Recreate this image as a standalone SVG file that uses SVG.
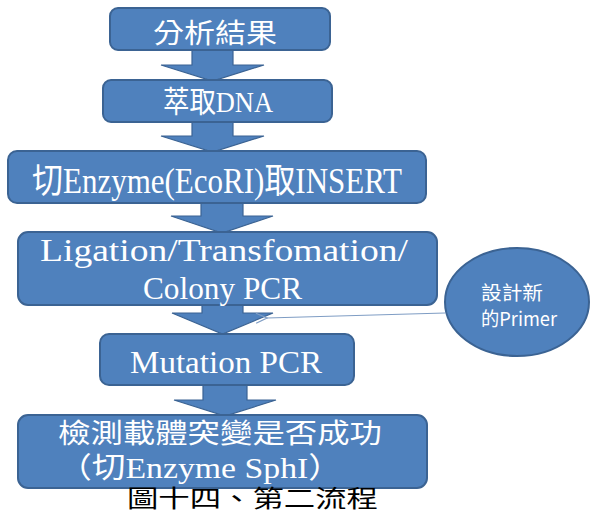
<svg xmlns="http://www.w3.org/2000/svg" width="590" height="525" viewBox="0 0 590 525">
<defs>
<style>
.box{fill:#4F81BD;stroke:#3B6393;stroke-width:2}
.arr{fill:#4F81BD;stroke:#3B6393;stroke-width:1.2;stroke-linejoin:miter}
.t{font-family:"Liberation Serif","Noto Sans CJK TC",serif;fill:#FFFFFF;text-anchor:start}
.e{font-family:"Noto Sans CJK TC","Noto Sans",sans-serif;fill:#FFFFFF;font-size:19px}
.cap{font-family:"Liberation Serif","Noto Sans CJK TC",serif;fill:#000000;font-size:24px}
.conn{fill:none;stroke:#7F9DC4;stroke-width:1.2}
</style>
<marker id="open" markerWidth="14" markerHeight="12" refX="1" refY="6" orient="auto" markerUnits="userSpaceOnUse">
<path d="M12,1 L1,6 L12,11" fill="none" stroke="#7F9DC4" stroke-width="1.2"/>
</marker>
</defs>
<rect width="590" height="525" fill="#FFFFFF"/>
<g id="arrows">
<polygon class="arr" points="192,48 233,48 233,65 264,65 212.5,81 161,65 192,65"/>
<polygon class="arr" points="192,120 233,120 233,136 264,136 212.5,152 161,136 192,136"/>
<polygon class="arr" points="201,201 243,201 243,216 273,216 222,233 171,216 201,216"/>
<polygon class="arr" points="202,303 243,303 243,313 273,313 222.5,334 172,313 202,313"/>
<polygon class="arr" points="203,383 247,383 247,400 276,400 225,416 174,400 203,400"/>
</g>
<g id="n1"><rect class="box" x="110" y="8" width="220" height="42" rx="8"/>
<text class="t" x="153" y="43" font-size="27" textLength="124" lengthAdjust="spacingAndGlyphs">分析結果</text></g>
<g id="n2"><rect class="box" x="103" y="80" width="229" height="42" rx="8"/>
<text class="t" x="163" y="112" font-size="30" textLength="110" lengthAdjust="spacingAndGlyphs">萃取DNA</text></g>
<g id="n3"><rect class="box" x="8" y="151" width="418" height="52" rx="9"/>
<text class="t" x="32" y="193" font-size="35" textLength="370" lengthAdjust="spacingAndGlyphs">切Enzyme(EcoRI)取INSERT</text></g>
<g id="n4"><rect class="box" x="18" y="232" width="419" height="73" rx="10"/>
<text class="t" x="40" y="261" font-size="31" textLength="368" lengthAdjust="spacingAndGlyphs">Ligation/Transfomation/</text>
<text class="t" x="143" y="299" font-size="31" textLength="159" lengthAdjust="spacingAndGlyphs">Colony PCR</text></g>
<g id="n5"><rect class="box" x="100" y="334" width="254" height="51" rx="9"/>
<text class="t" x="130" y="373" font-size="31" textLength="192" lengthAdjust="spacingAndGlyphs">Mutation PCR</text></g>
<g id="n6"><rect class="box" x="18" y="415" width="409" height="73" rx="10"/>
<text class="t" x="58" y="443" font-size="27" textLength="324" lengthAdjust="spacingAndGlyphs">檢測載體突變是否成功</text>
<text class="t" x="58" y="478" font-size="29" textLength="284" lengthAdjust="spacingAndGlyphs">（切Enzyme SphI）</text></g>
<g id="n7"><ellipse class="box" cx="517" cy="302" rx="72" ry="54"/>
<text class="e" x="481" y="300" textLength="62" lengthAdjust="spacingAndGlyphs">設計新</text>
<text class="e" x="481" y="326" textLength="76" lengthAdjust="spacingAndGlyphs">的Primer</text></g>
<g id="connectors">
<line class="conn" x1="445" y1="313" x2="267" y2="318" marker-end="url(#open)"/>
</g>
<g id="caption"><text class="cap" x="127" y="507" textLength="251" lengthAdjust="spacingAndGlyphs">圖十四、第二流程</text></g>
</svg>
